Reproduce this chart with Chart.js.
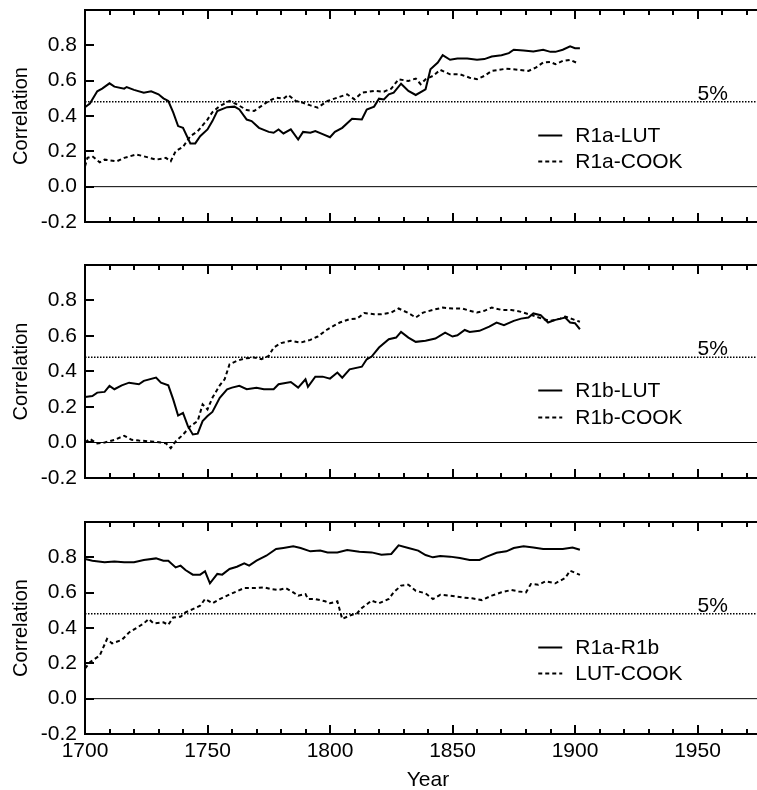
<!DOCTYPE html>
<html>
<head>
<meta charset="utf-8">
<script src="https://cdn.jsdelivr.net/npm/chart.js@4.4.1/dist/chart.umd.min.js"></script>
<style>
  body { margin: 0; background: #fff; overflow: hidden; }
  #wrap { position: relative; width: 757px; height: 790px; overflow: hidden; }
  .panel { position: absolute; left: 0; }
</style>
</head>
<body>
<div id="wrap">
  <div class="panel" style="top:0px"><canvas id="c1" width="771" height="232"></canvas></div>
  <div class="panel" style="top:255px"><canvas id="c2" width="771" height="233"></canvas></div>
  <div class="panel" style="top:512px"><canvas id="c3" width="771" height="279"></canvas></div>
</div>
<script>
// ---- data ----
const yearMin = 1700;
const yearMax = 1980;
const yTicksMin = -0.2;
const yTicksMax = 1.0;
const sig5 = 0.48; // 5% significance level

// panel 1
const r1aLutYears = [1700,1702,1705,1707,1710,1712,1716,1717,1720,1724,1727,1730,1732,1734,1736,1738,1740,1743,1745,1747,1750,1752,1754,1758,1761,1763,1766,1768,1771,1775,1777,1779,1781,1784,1787,1789,1792,1794,1797,1800,1802,1805,1809,1813,1815,1818,1820,1822,1824,1826,1829,1832,1835,1839,1841,1844,1846,1849,1852,1856,1860,1863,1866,1870,1873,1875,1879,1883,1887,1890,1892,1895,1898,1900,1902];
const r1aLut = [0.45,0.47,0.54,0.555,0.585,0.566,0.555,0.564,0.548,0.532,0.54,0.523,0.50,0.485,0.42,0.343,0.333,0.245,0.245,0.286,0.324,0.371,0.428,0.45,0.453,0.437,0.38,0.371,0.333,0.31,0.305,0.324,0.301,0.324,0.267,0.31,0.305,0.315,0.297,0.28,0.31,0.333,0.384,0.38,0.437,0.453,0.498,0.494,0.523,0.532,0.583,0.542,0.519,0.551,0.665,0.703,0.744,0.718,0.725,0.725,0.718,0.722,0.737,0.744,0.756,0.775,0.771,0.765,0.775,0.763,0.763,0.775,0.794,0.784,0.784];
const r1aCookYears = [1700,1701,1703,1706,1708,1713,1716,1721,1724,1729,1733,1735,1737,1740,1743,1746,1750,1752,1755,1759,1762,1766,1769,1771,1775,1778,1781,1783,1786,1789,1792,1795,1799,1803,1807,1810,1813,1818,1822,1825,1828,1832,1835,1837,1839,1842,1845,1849,1853,1857,1860,1863,1866,1872,1877,1881,1884,1887,1890,1892,1895,1898,1901];
const r1aCook = [0.115,0.163,0.172,0.138,0.153,0.144,0.163,0.182,0.172,0.153,0.163,0.144,0.201,0.225,0.286,0.314,0.38,0.422,0.456,0.485,0.466,0.434,0.428,0.447,0.485,0.504,0.498,0.519,0.485,0.475,0.46,0.447,0.485,0.504,0.523,0.494,0.532,0.542,0.538,0.555,0.608,0.598,0.612,0.58,0.608,0.627,0.661,0.636,0.636,0.617,0.608,0.627,0.655,0.668,0.661,0.655,0.674,0.703,0.706,0.693,0.712,0.718,0.699];

// panel 2
const r1bLutYears = [1700,1703,1705,1708,1710,1712,1715,1718,1722,1724,1729,1731,1734,1736,1738,1740,1742,1744,1746,1748,1750,1752,1755,1758,1760,1763,1766,1770,1773,1777,1779,1784,1787,1790,1791,1794,1797,1800,1803,1805,1808,1813,1815,1817,1820,1824,1827,1829,1832,1835,1839,1843,1847,1850,1852,1855,1857,1861,1865,1868,1871,1875,1878,1881,1883,1886,1889,1892,1896,1898,1900,1902];
const r1bLut = [0.256,0.262,0.281,0.285,0.319,0.30,0.322,0.337,0.328,0.347,0.366,0.337,0.322,0.243,0.152,0.167,0.092,0.045,0.05,0.121,0.149,0.172,0.252,0.30,0.309,0.319,0.30,0.309,0.30,0.30,0.328,0.341,0.309,0.356,0.314,0.371,0.371,0.36,0.394,0.365,0.412,0.427,0.469,0.484,0.535,0.582,0.591,0.623,0.591,0.567,0.573,0.586,0.619,0.597,0.604,0.634,0.623,0.629,0.653,0.676,0.661,0.685,0.698,0.704,0.727,0.717,0.676,0.691,0.704,0.676,0.672,0.638];
const r1bCookYears = [1700,1702,1705,1708,1712,1716,1719,1722,1727,1731,1733,1735,1737,1740,1743,1746,1748,1750,1752,1755,1757,1759,1762,1765,1769,1772,1775,1777,1780,1784,1788,1792,1795,1799,1804,1808,1811,1814,1818,1821,1825,1828,1832,1835,1838,1842,1846,1850,1854,1857,1860,1863,1866,1870,1874,1878,1881,1884,1887,1890,1894,1896,1899,1902];
const r1bCook = [0.0,0.02,-0.006,0.0,0.015,0.038,0.015,0.011,0.006,0.0,-0.004,-0.032,0.006,0.044,0.092,0.121,0.215,0.186,0.252,0.322,0.356,0.441,0.46,0.473,0.479,0.469,0.488,0.535,0.56,0.573,0.563,0.578,0.597,0.638,0.676,0.695,0.698,0.729,0.723,0.723,0.732,0.755,0.729,0.704,0.732,0.747,0.76,0.755,0.755,0.742,0.732,0.742,0.76,0.747,0.747,0.736,0.723,0.71,0.695,0.685,0.698,0.71,0.695,0.68];

// panel 3
const r1abYears = [1700,1703,1708,1712,1716,1720,1724,1729,1732,1734,1737,1739,1741,1744,1747,1749,1751,1754,1756,1759,1762,1765,1767,1770,1774,1778,1781,1785,1788,1792,1796,1799,1803,1807,1812,1817,1821,1825,1828,1832,1836,1839,1842,1845,1849,1853,1857,1861,1864,1868,1872,1875,1879,1883,1887,1891,1895,1899,1902];
const r1ab = [0.79,0.781,0.772,0.777,0.772,0.772,0.785,0.794,0.781,0.781,0.743,0.753,0.728,0.702,0.702,0.721,0.653,0.706,0.702,0.734,0.747,0.766,0.753,0.781,0.809,0.847,0.853,0.862,0.853,0.834,0.838,0.828,0.828,0.841,0.832,0.828,0.815,0.819,0.868,0.853,0.838,0.813,0.80,0.807,0.804,0.796,0.785,0.785,0.804,0.826,0.834,0.853,0.862,0.856,0.847,0.847,0.847,0.856,0.843];
const lutCookYears = [1700,1702,1706,1709,1711,1715,1718,1721,1724,1726,1728,1732,1734,1736,1739,1741,1744,1747,1749,1752,1755,1758,1761,1765,1769,1773,1776,1779,1782,1785,1787,1790,1791,1794,1798,1800,1803,1805,1808,1811,1813,1817,1820,1824,1826,1829,1832,1835,1839,1842,1845,1849,1854,1858,1862,1866,1870,1874,1877,1880,1882,1885,1888,1892,1896,1898,1902];
const lutCook = [0.17,0.206,0.244,0.338,0.313,0.332,0.375,0.40,0.426,0.451,0.426,0.432,0.418,0.46,0.464,0.488,0.507,0.526,0.564,0.54,0.564,0.583,0.602,0.626,0.626,0.63,0.62,0.615,0.626,0.602,0.583,0.592,0.564,0.564,0.551,0.54,0.551,0.451,0.47,0.483,0.513,0.555,0.54,0.564,0.602,0.64,0.645,0.611,0.596,0.564,0.588,0.583,0.573,0.568,0.558,0.583,0.602,0.615,0.607,0.602,0.649,0.645,0.664,0.653,0.683,0.724,0.701];

const xTickLabels = [1700, 1750, 1800, 1850, 1900, 1950];

// ---- helpers ----
const fontFam = "'Liberation Sans', Arial, Helvetica, sans-serif";

function pts(xs, ys) {
  return xs.map((v, i) => ({ x: v, y: ys[i] }));
}

// inward ticks, top border, 5% label and the in-plot legend
const framePlugin = {
  id: "frame",
  afterDatasetsDraw(chart) {
    const { ctx, chartArea: a, scales } = chart;
    const x = scales.x, y = scales.y;
    ctx.save();
    ctx.strokeStyle = "#000";
    ctx.lineWidth = 2;
    ctx.beginPath();
    ctx.moveTo(a.left, a.top);
    ctx.lineTo(a.right, a.top);
    ctx.stroke();

    for (let yr = yearMin; yr <= yearMax; yr += 10) {
      const px = Math.round(x.getPixelForValue(yr));
      const len = yr % 50 === 0 ? 9 : 5;
      ctx.beginPath();
      ctx.moveTo(px, a.bottom);
      ctx.lineTo(px, a.bottom - len);
      ctx.moveTo(px, a.top);
      ctx.lineTo(px, a.top + len);
      ctx.stroke();
    }
    for (let v = yTicksMin; v <= yTicksMax + 1e-6; v += 0.2) {
      const py = Math.round(y.getPixelForValue(v));
      ctx.beginPath();
      ctx.moveTo(a.left, py);
      ctx.lineTo(a.left + 9, py);
      ctx.stroke();
    }

    // 5% label
    ctx.fillStyle = "#000";
    ctx.font = "21px " + fontFam;
    ctx.textBaseline = "alphabetic";
    ctx.textAlign = "left";
    ctx.fillText("5%", x.getPixelForValue(1950), y.getPixelForValue(sig5) - 2);

    // legend
    ctx.textBaseline = "middle";
    const lx = x.getPixelForValue(1885);
    const rows = [0.295, 0.145];
    chart.data.datasets.slice(0, 2).forEach((ds, i) => {
      const py = Math.round(y.getPixelForValue(rows[i])) + 0.5;
      ctx.setLineDash(ds.borderDash || []);
      ctx.lineWidth = 2;
      ctx.beginPath();
      ctx.moveTo(lx, py);
      ctx.lineTo(lx + 24, py);
      ctx.stroke();
      ctx.setLineDash([]);
      ctx.fillText(ds.label, lx + 37, py + 1);
    });
    ctx.restore();
  },
};

function makePanel(id, series, showX) {
  const datasets = [
    {
      label: series[0].name,
      data: series[0].data,
      borderColor: "#000",
      borderWidth: 2,
      pointRadius: 0,
    },
    {
      label: series[1].name,
      data: series[1].data,
      borderColor: "#000",
      borderWidth: 2,
      borderDash: [4, 3],
      pointRadius: 0,
    },
    {
      // 5% line
      label: "5%",
      data: [{ x: yearMin, y: sig5 }, { x: yearMax, y: sig5 }],
      borderColor: "#000",
      borderWidth: 1.5,
      borderDash: [1.5, 1.5],
      pointRadius: 0,
    },
    {
      // zero line
      label: "zero",
      data: [{ x: yearMin, y: 0 }, { x: yearMax, y: 0 }],
      borderColor: "#000",
      borderWidth: 1,
      pointRadius: 0,
    },
  ];

  new Chart(document.getElementById(id), {
    type: "line",
    data: { datasets: datasets },
    plugins: [framePlugin],
    options: {
      responsive: false,
      animation: false,
      layout: { padding: { top: 10, bottom: showX ? 0 : 10, left: 0, right: 0 } },
      plugins: {
        legend: { display: false },
        tooltip: { enabled: false },
      },
      elements: { line: { tension: 0 } },
      scales: {
        x: {
          type: "linear",
          min: yearMin,
          max: yearMax,
          grid: { display: false, drawTicks: false },
          border: { display: true, color: "#000", width: 2 },
          ticks: {
            display: showX,
            stepSize: 50,
            autoSkip: false,
            maxRotation: 0,
            padding: 5,
            color: "#000",
            font: { family: fontFam, size: 21 },
            callback: (v) => (xTickLabels.includes(v) ? String(v) : ""),
          },
          title: {
            display: showX,
            text: "Year",
            color: "#000",
            font: { family: fontFam, size: 21, lineHeight: 1 },
            padding: { top: 0, bottom: 0 },
          },
          afterFit: (scale) => {
            scale.height = showX ? 57 : 0;
            scale.paddingLeft = 0;
            scale.paddingRight = 0;
          },
        },
        y: {
          min: yTicksMin,
          max: yTicksMax,
          grid: { display: false, drawTicks: false },
          border: { display: true, color: "#000", width: 2 },
          ticks: {
            stepSize: 0.2,
            padding: 8,
            color: "#000",
            font: { family: fontFam, size: 21 },
            callback: (v) => {
              if (v > 0.9) return "";
              if (Math.abs(v) < 1e-9) return "0.0";
              return Number(v).toFixed(1);
            },
          },
          title: {
            display: true,
            text: "Correlation",
            color: "#000",
            font: { family: fontFam, size: 20, lineHeight: 1 },
            padding: { top: 11, bottom: 0 },
          },
          afterFit: (scale) => {
            scale.width = 85;
            scale.paddingTop = 0;
            scale.paddingBottom = 0;
          },
        },
      },
    },
  });
}

makePanel("c1", [
  { name: "R1a-LUT", data: pts(r1aLutYears, r1aLut) },
  { name: "R1a-COOK", data: pts(r1aCookYears, r1aCook) },
], false);

makePanel("c2", [
  { name: "R1b-LUT", data: pts(r1bLutYears, r1bLut) },
  { name: "R1b-COOK", data: pts(r1bCookYears, r1bCook) },
], false);

makePanel("c3", [
  { name: "R1a-R1b", data: pts(r1abYears, r1ab) },
  { name: "LUT-COOK", data: pts(lutCookYears, lutCook) },
], true);
</script>
</body>
</html>
